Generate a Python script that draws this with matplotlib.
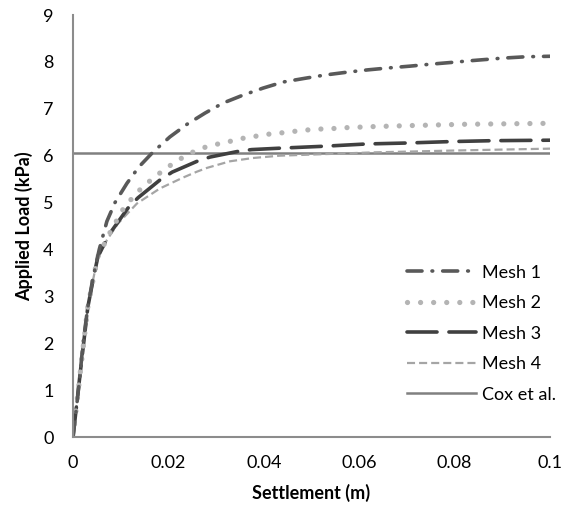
import matplotlib.pyplot as plt

plt.rcParams.update({'font.size': 13, 'font.family': ['Lato', 'DejaVu Sans'],
                     'lines.scale_dashes': False})

# Settlement (m) / applied load (kPa)
mesh1_x = [0, 0.0008, 0.0015, 0.0021, 0.0031, 0.0042, 0.0055, 0.0071, 0.0088, 0.0113,
           0.0138, 0.0168, 0.0203, 0.0239, 0.0277, 0.0314, 0.0356, 0.0398, 0.044,
           0.0486, 0.0528, 0.0574, 0.0618, 0.066, 0.0707, 0.0748, 0.0795, 0.0839,
           0.09, 0.095, 0.1]
mesh1_y = [0, 0.7, 1.36, 2.0, 2.77, 3.4, 4.0, 4.6, 5.0, 5.41, 5.76, 6.08, 6.40,
           6.67, 6.91, 7.12, 7.29, 7.44, 7.57, 7.65, 7.72, 7.78, 7.83, 7.87, 7.91,
           7.95, 7.99, 8.03, 8.08, 8.11, 8.12]

mesh2_x = [0, 0.0015, 0.0031, 0.0042, 0.0052, 0.0078, 0.0105, 0.0122, 0.014, 0.0161,
           0.0182, 0.0205, 0.0228, 0.0252, 0.0277, 0.0304, 0.0331, 0.0356, 0.0386,
           0.0411, 0.044, 0.0465, 0.0493, 0.0522, 0.0547, 0.0577, 0.0604, 0.0629,
           0.07, 0.0822, 0.1]
mesh2_y = [0, 1.36, 2.77, 3.35, 3.84, 4.37, 4.86, 5.07, 5.27, 5.46, 5.63, 5.80, 5.95,
           6.08, 6.18, 6.25, 6.31, 6.37, 6.42, 6.46, 6.49, 6.52, 6.55, 6.57, 6.58,
           6.60, 6.61, 6.62, 6.64, 6.67, 6.69]

mesh3_x = [0, 0.0015, 0.0031, 0.0042, 0.0052, 0.0073, 0.0082, 0.0115, 0.0136, 0.0182,
           0.0208, 0.026, 0.0287, 0.035, 0.0375, 0.0434, 0.0524, 0.0616, 0.07, 0.079,
           0.088, 0.1]
mesh3_y = [0, 1.36, 2.77, 3.35, 3.84, 4.27, 4.41, 4.88, 5.10, 5.48, 5.65, 5.88, 5.97,
           6.10, 6.13, 6.16, 6.20, 6.25, 6.27, 6.30, 6.32, 6.33]

mesh4_x = [0, 0.0015, 0.0031, 0.0042, 0.0052, 0.0071, 0.0094, 0.0134, 0.0182, 0.023,
           0.026, 0.0281, 0.0329, 0.0377, 0.0434, 0.0518, 0.0629, 0.08, 0.1]
mesh4_y = [0, 1.36, 2.77, 3.35, 3.84, 4.2, 4.55, 4.98, 5.30, 5.53, 5.66, 5.74, 5.88,
           5.95, 6.00, 6.03, 6.07, 6.11, 6.15]

cox_x = [0, 0.1]
cox_y = [6.05, 6.05]

fig = plt.figure(figsize=(5.63, 5.14), dpi=100)
ax = fig.add_axes([0.1297, 0.1498, 0.8473, 0.821])

ax.plot(cox_x, cox_y, color='#808080', lw=1.8, label='Cox et al.')
ax.plot(mesh4_x, mesh4_y, color='#a5a5a5', lw=1.6, dashes=(5.8, 2.9), label='Mesh 4')
ax.plot(mesh3_x, mesh3_y, color='#404040', lw=2.6, dashes=(21.6, 8.6),
        dash_capstyle='round', label='Mesh 3')
ax.plot(mesh2_x, mesh2_y, color='#b4b4b4', lw=3.8, dashes=(0.01, 9.4),
        dash_capstyle='round', label='Mesh 2')
ax.plot(mesh1_x, mesh1_y, color='#595959', lw=2.6, dashes=(10.8, 7.2, 0.5, 7.2),
        dash_capstyle='round', label='Mesh 1')

ax.set_xlim(0, 0.1)
ax.set_ylim(0, 9)
ax.set_xticks([0, 0.02, 0.04, 0.06, 0.08, 0.1])
ax.set_xticklabels(['0', '0.02', '0.04', '0.06', '0.08', '0.1'])
ax.set_yticks(range(10))
ax.tick_params(length=0, pad=0)
ax.tick_params(axis='x', pad=13)
ax.tick_params(axis='y', pad=14)
for side in ['top', 'right']:
    ax.spines[side].set_visible(False)
for side in ['left', 'bottom']:
    ax.spines[side].set_color('#8c8c8c')
    ax.spines[side].set_linewidth(1.5)

ax.set_xlabel('Settlement (m)', fontweight='bold', labelpad=9)
ax.set_ylabel('Applied Load (kPa)', fontweight='bold', labelpad=7)

handles, labels = ax.get_legend_handles_labels()
ax.legend(handles[::-1], labels[::-1], loc='center left', bbox_to_anchor=(0.70, 0.245),
          frameon=False, handlelength=3.8, handletextpad=0.37, labelspacing=0.8,
          borderpad=0, borderaxespad=0)

fig.savefig('out.png', dpi=100)
